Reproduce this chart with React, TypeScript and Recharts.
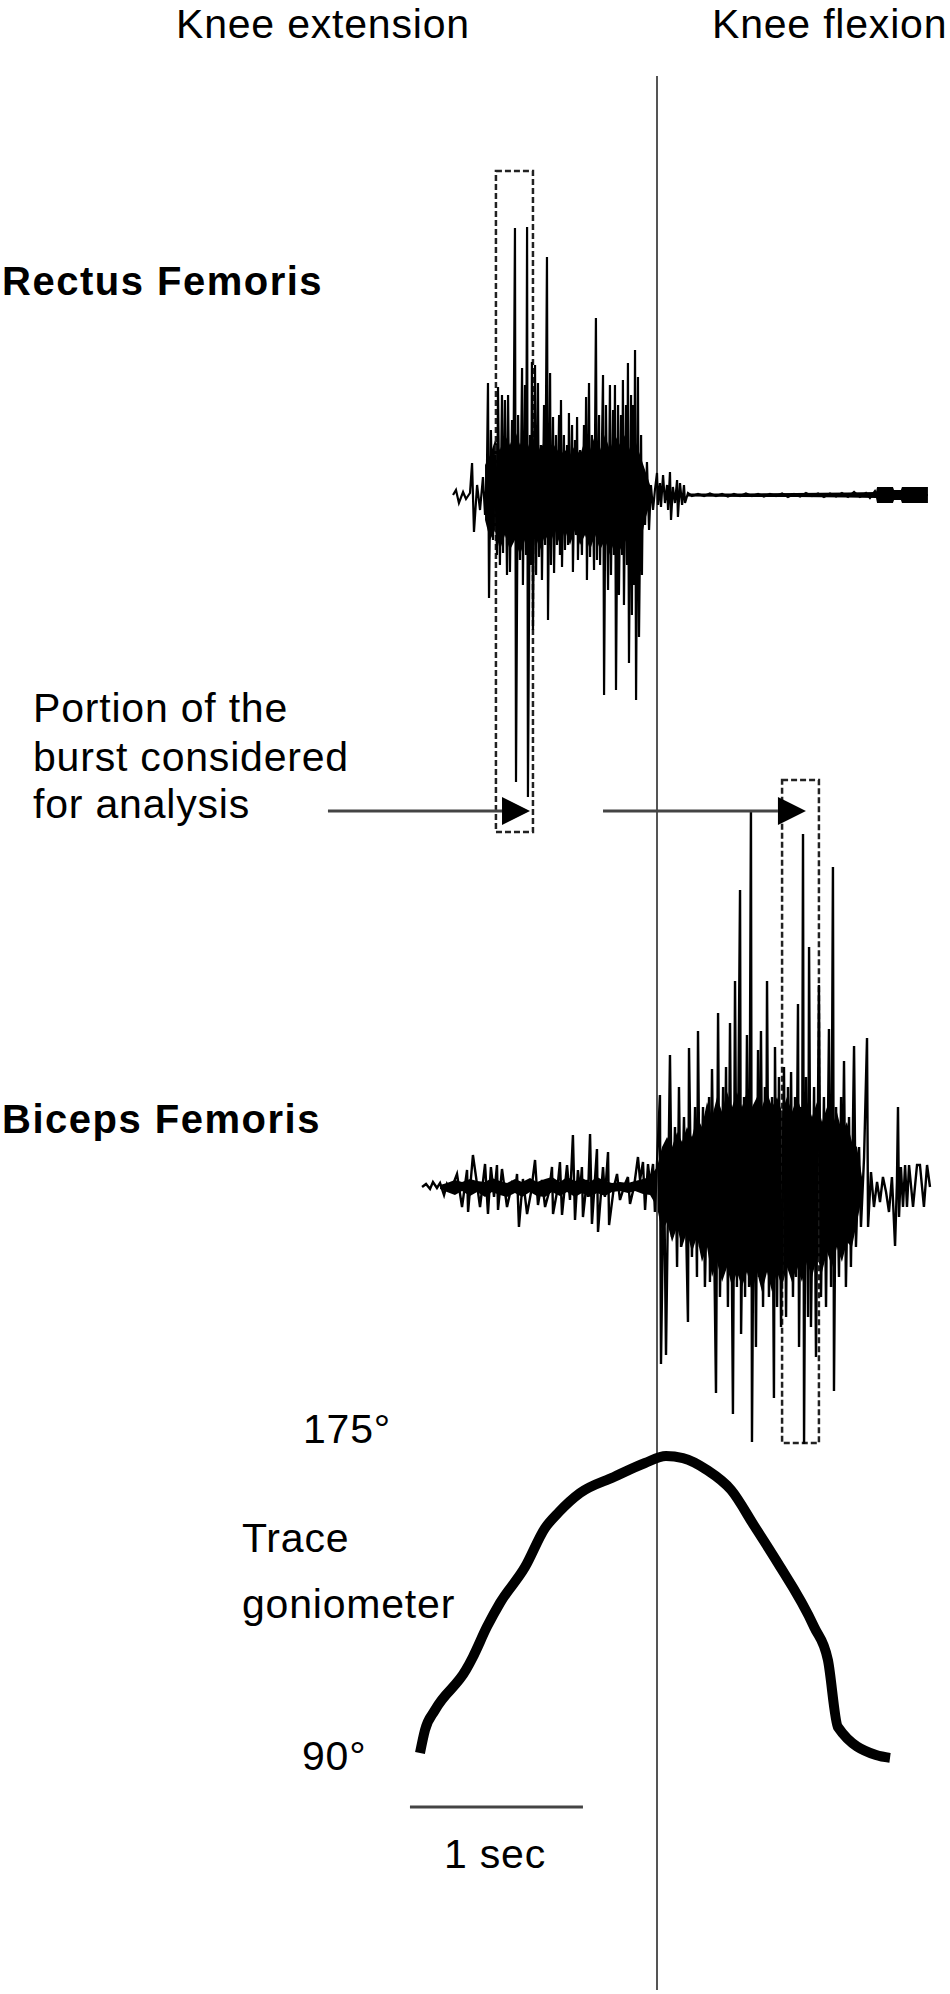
import {
  Area,
  ComposedChart,
  Line,
  ReferenceArea,
  ReferenceDot,
  ReferenceLine,
  XAxis,
  YAxis,
} from 'recharts';

/**
 * EMG bursts of rectus femoris and biceps femoris during a knee
 * extension / flexion cycle, with the goniometer trace below.
 * Time is in seconds relative to the end of knee extension (t = 0),
 * EMG in mV, goniometer in degrees.
 */

// Rectus femoris raw EMG (s, mV)
const rfTime = [
  -1.179, -1.162, -1.145, -1.121, -1.104, -1.081, -1.069, -1.058, -1.04, -1.023,
  -1.006, -0.994, -0.983, -0.977, -0.971, -0.96, -0.948, -0.936, -0.925, -0.919,
  -0.908, -0.896, -0.89, -0.879, -0.867, -0.861, -0.85, -0.838, -0.832, -0.821,
  -0.815, -0.803, -0.792, -0.78, -0.775, -0.763, -0.757, -0.751, -0.746, -0.734,
  -0.728, -0.723, -0.717, -0.705, -0.699, -0.688, -0.682, -0.671, -0.665, -0.653,
  -0.647, -0.636, -0.63, -0.618, -0.613, -0.601, -0.595, -0.584, -0.578, -0.566,
  -0.561, -0.555, -0.549, -0.538, -0.532, -0.52, -0.514, -0.509, -0.503, -0.491,
  -0.486, -0.474, -0.468, -0.462, -0.457, -0.445, -0.434, -0.422, -0.416, -0.41,
  -0.405, -0.393, -0.387, -0.376, -0.364, -0.353, -0.347, -0.335, -0.329, -0.312,
  -0.306, -0.295, -0.283, -0.272, -0.266, -0.254, -0.249, -0.243, -0.237, -0.225,
  -0.22, -0.208, -0.202, -0.197, -0.191, -0.179, -0.173, -0.168, -0.162, -0.15,
  -0.145, -0.139, -0.133, -0.127, -0.121, -0.11, -0.104, -0.092, -0.087, -0.081,
  -0.069, -0.058, -0.046, -0.035, -0.023, -0.012, 0.0, 0.006, 0.017, 0.023,
  0.035, 0.046, 0.058, 0.064, 0.075, 0.081, 0.092, 0.104, 0.116, 0.121,
  0.133, 0.145, 0.156, 0.162, 0.179, 0.202, 0.237, 0.272, 0.306, 0.341,
  0.376, 0.41, 0.445, 0.48, 0.514, 0.549, 0.584, 0.618, 0.653, 0.688,
  0.723, 0.757, 0.792, 0.827, 0.861, 0.896, 0.931, 0.965, 1.0, 1.035,
  1.069, 1.104, 1.139, 1.173, 1.208, 1.231, 1.26, 1.272, 1.566,
];
const rfAmp = [
  0, 0.05, -0.08, 0.03, -0.04, 0.02, 0.32, -0.37, 0.1, -0.15,
  0.18, -0.2, 0.25, 1.12, -1.03, 0.65, -0.45, 0.4, -0.6, 1.08,
  -0.7, 1.0, -0.58, 0.95, -0.8, 1.0, -0.77, 0.75, -0.4, 2.67,
  -2.87, 0.8, -0.65, 1.27, -0.9, 1.1, -0.6, 2.68, -3.02, 0.6,
  -0.7, 1.33, -1.35, 1.3, -0.8, 1.12, -0.62, 0.5, -0.85, 0.9,
  -0.5, 2.38, -1.25, 1.22, -0.7, 0.78, -0.78, 0.6, -0.5, 0.8,
  -0.6, 0.95, -0.72, 0.6, -0.55, 0.5, -0.5, 0.82, -0.45, 0.7,
  -0.77, 0.55, -0.4, 0.78, -0.65, 0.45, -0.6, 0.7, -0.4, 0.98,
  -0.85, 1.12, -0.62, 0.6, -0.75, 1.77, -0.65, 0.8, -0.7, 1.2,
  -2.0, 0.9, -0.95, 1.1, -0.8, 0.85, -0.6, 1.1, -1.95, 0.9,
  -1.0, 0.8, -0.6, 1.15, -1.1, 0.9, -0.7, 1.32, -1.68, 1.0,
  -1.2, 0.9, -0.9, 1.45, -2.05, 1.18, -1.42, 0.6, -0.8, 0.25,
  -0.3, 0.33, -0.35, 0.1, -0.15, 0.05, 0.22, -0.1, 0.12, -0.12,
  0.2, -0.08, 0.1, -0.15, 0.23, -0.25, 0.08, -0.08, 0.15, -0.22,
  0.12, -0.1, 0.1, -0.08, 0.02, -0.01, 0.01, -0.01, 0.015, -0.01,
  0.01, -0.015, 0.01, -0.01, 0.015, -0.01, 0.01, -0.015, 0.01, -0.01,
  0.015, -0.02, 0.01, -0.015, 0.02, -0.01, 0.015, -0.02, 0.015, -0.015,
  0.02, -0.02, 0.03, -0.02, 0.02, -0.03, 0.04, 0, 0,
];

// Rectus femoris dense core (min / max envelope, mV)
const rfCoreTime = [
  -0.994, -0.965, -0.936, -0.908, -0.879, -0.85, -0.821, -0.792, -0.763, -0.734,
  -0.705, -0.676, -0.647, -0.618, -0.59, -0.561, -0.532, -0.503, -0.474, -0.445,
  -0.416, -0.387, -0.358, -0.329, -0.301, -0.272, -0.243, -0.214, -0.185, -0.156,
  -0.127, -0.098, -0.069, -0.04,
];
const rfCoreLow = [
  -0.25, -0.45, -0.35, -0.55, -0.4, -0.55, -0.45, -0.6, -0.45, -0.55,
  -0.4, -0.55, -0.4, -0.5, -0.35, -0.5, -0.35, -0.5, -0.35, -0.5,
  -0.4, -0.55, -0.4, -0.55, -0.45, -0.6, -0.45, -0.55, -0.45, -0.55,
  -0.45, -0.5, -0.25, -0.08,
];
const rfCoreHigh = [
  0.3, 0.4, 0.55, 0.45, 0.6, 0.5, 0.65, 0.5, 0.6, 0.45,
  0.6, 0.45, 0.55, 0.4, 0.5, 0.4, 0.45, 0.4, 0.5, 0.4,
  0.55, 0.45, 0.6, 0.45, 0.6, 0.45, 0.6, 0.5, 0.6, 0.45,
  0.55, 0.4, 0.25, 0.1,
];

// Rectus femoris after the burst: low-level baseline and end-of-record block
const rfTailTime = [0.179, 0.5, 0.8, 1.1, 1.266, 1.272, 1.364, 1.37, 1.41, 1.416, 1.566];
const rfTailLow = [-0.015, -0.02, -0.02, -0.025, -0.03, -0.08, -0.08, -0.05, -0.05, -0.08, -0.08];
const rfTailHigh = [0.015, 0.015, 0.02, 0.025, 0.03, 0.08, 0.08, 0.05, 0.05, 0.08, 0.08];

// Biceps femoris raw EMG (s, mV)
const bfTime = [
  -1.358, -1.335, -1.312, -1.295, -1.272, -1.254, -1.231, -1.214, -1.191, -1.156,
  -1.127, -1.098, -1.092, -1.064, -1.046, -1.023, -0.994, -0.977, -0.96, -0.942,
  -0.925, -0.919, -0.896, -0.867, -0.838, -0.821, -0.809, -0.798, -0.775, -0.751,
  -0.728, -0.705, -0.688, -0.665, -0.647, -0.624, -0.607, -0.601, -0.578, -0.561,
  -0.549, -0.52, -0.503, -0.486, -0.474, -0.457, -0.445, -0.434, -0.428, -0.405,
  -0.399, -0.387, -0.376, -0.347, -0.341, -0.312, -0.301, -0.283, -0.277, -0.249,
  -0.231, -0.214, -0.185, -0.168, -0.156, -0.133, -0.11, -0.098, -0.081, -0.069,
  -0.052, -0.04, -0.023, -0.012, 0.017, 0.023, 0.04, 0.052, 0.075, 0.087,
  0.104, 0.116, 0.127, 0.139, 0.156, 0.179, 0.185, 0.202, 0.22, 0.231,
  0.237, 0.249, 0.266, 0.277, 0.301, 0.306, 0.318, 0.341, 0.353, 0.364,
  0.382, 0.387, 0.399, 0.41, 0.422, 0.439, 0.451, 0.462, 0.48, 0.486,
  0.503, 0.509, 0.52, 0.532, 0.543, 0.549, 0.561, 0.572, 0.584, 0.59,
  0.601, 0.613, 0.624, 0.63, 0.636, 0.647, 0.665, 0.676, 0.682, 0.694,
  0.705, 0.717, 0.734, 0.746, 0.757, 0.763, 0.775, 0.786, 0.798, 0.803,
  0.815, 0.821, 0.832, 0.838, 0.844, 0.85, 0.861, 0.873, 0.879, 0.89,
  0.908, 0.919, 0.936, 0.948, 0.965, 0.977, 0.994, 1.006, 1.017, 1.023,
  1.035, 1.052, 1.064, 1.069, 1.081, 1.092, 1.11, 1.121, 1.139, 1.15,
  1.168, 1.179, 1.197, 1.214, 1.22, 1.237, 1.254, 1.272, 1.289, 1.306,
  1.324, 1.341, 1.358, 1.376, 1.387, 1.393, 1.399, 1.41, 1.422, 1.434,
  1.445, 1.457, 1.48, 1.503, 1.52, 1.543, 1.561, 1.578,
];
const bfAmp = [
  0, 0.03, -0.02, 0.05, -0.01, 0.04, -0.08, 0.03, -0.03, 0.13,
  -0.2, 0.17, -0.25, 0.32, 0.1, -0.2, 0.23, -0.27, 0.2, -0.1,
  0.22, -0.23, 0.18, -0.2, 0.03, -0.05, 0.13, -0.4, 0.08, -0.27,
  -0.05, 0.27, -0.18, 0.07, -0.2, -0.05, 0.2, -0.27, -0.05, 0.25,
  -0.28, 0.22, -0.13, 0.52, -0.33, 0.17, -0.05, 0.2, -0.3, 0.07,
  -0.1, 0.53, -0.37, 0.38, -0.45, 0.2, -0.1, 0.35, -0.38, 0.0,
  0.13, -0.13, 0.03, 0.1, -0.17, 0.0, 0.3, 0.07, 0.25, -0.23,
  0.23, 0.03, 0.23, -0.25, 0.92, -1.77, 0.3, -1.68, 1.32, -0.5,
  0.6, -0.8, 1.0, -0.6, 0.7, -1.35, 1.39, -0.7, 0.8, -0.9,
  1.56, -0.6, 0.8, -1.0, 0.9, -0.95, 1.18, -2.06, 1.74, -1.1,
  1.0, -0.8, 1.2, -1.2, 1.64, -2.27, 2.06, -1.0, 2.97, -1.47,
  0.9, -1.1, 1.52, -1.0, 3.77, -2.55, 0.8, -1.6, 1.37, -0.9,
  1.56, -1.2, 1.0, -0.8, 2.06, -1.1, 0.9, -2.11, 1.4, -1.2,
  1.1, -1.4, 1.2, -1.3, 1.0, -0.7, 1.15, -1.1, 0.9, -0.9,
  1.83, -1.6, 0.8, -0.6, 3.53, -2.57, 1.1, -1.3, 2.4, -1.4,
  1.0, -1.7, 2.02, -1.1, 0.9, -1.2, 1.58, -1.0, 3.2, -2.04,
  0.8, -0.9, 0.9, -0.6, 1.26, -1.0, 0.7, -0.8, 1.41, -0.6,
  0.4, -0.4, 0.3, 1.49, -0.4, 0.15, -0.2, 0.05, -0.15, 0.1,
  -0.05, -0.25, 0.1, -0.59, 0.05, 0.8, -0.3, 0.2, -0.2, 0.22,
  -0.2, 0.22, -0.2, 0.22, 0.22, -0.2, 0.22, 0,
];

// Biceps femoris dense core (min / max envelope, mV)
const bfCoreTime = [
  -1.254, -1.214, -1.168, -1.127, -1.081, -1.04, -0.994, -0.954, -0.908, -0.867,
  -0.821, -0.78, -0.734, -0.694, -0.647, -0.607, -0.561, -0.52, -0.474, -0.434,
  -0.387, -0.347, -0.301, -0.26, -0.214, -0.168, -0.127, -0.081, -0.04, 0.0,
  0.029, 0.058, 0.087, 0.116, 0.145, 0.173, 0.202, 0.231, 0.26, 0.289,
  0.318, 0.347, 0.376, 0.405, 0.434, 0.462, 0.491, 0.52, 0.549, 0.578,
  0.607, 0.636, 0.665, 0.694, 0.723, 0.751, 0.78, 0.809, 0.838, 0.867,
  0.896, 0.925, 0.954, 0.983, 1.012, 1.04, 1.069, 1.098, 1.127, 1.156,
  1.185,
];
const bfCoreLow = [
  -0.02, -0.05, -0.08, -0.04, -0.09, -0.05, -0.1, -0.05, -0.08, -0.1,
  -0.06, -0.1, -0.05, -0.09, -0.1, -0.05, -0.09, -0.05, -0.1, -0.06,
  -0.1, -0.06, -0.09, -0.05, -0.04, -0.06, -0.04, -0.07, -0.08, -0.2,
  -0.45, -0.35, -0.55, -0.4, -0.6, -0.45, -0.65, -0.5, -0.75, -0.6,
  -0.9, -0.75, -0.95, -0.8, -1.0, -0.85, -1.0, -0.85, -1.05, -0.85,
  -1.05, -0.85, -1.05, -0.85, -1.0, -0.8, -0.95, -0.8, -0.95, -0.75,
  -0.9, -0.7, -0.85, -0.65, -0.8, -0.6, -0.75, -0.55, -0.6, -0.35,
  -0.1,
];
const bfCoreHigh = [
  0.02, 0.04, 0.07, 0.05, 0.08, 0.06, 0.05, 0.09, 0.06, 0.04,
  0.08, 0.05, 0.09, 0.05, 0.08, 0.1, 0.05, 0.1, 0.06, 0.09,
  0.05, 0.1, 0.06, 0.04, 0.05, 0.04, 0.06, 0.08, 0.1, 0.2,
  0.4, 0.5, 0.4, 0.55, 0.45, 0.6, 0.5, 0.7, 0.6, 0.85,
  0.7, 0.9, 0.75, 0.95, 0.8, 0.95, 0.8, 0.95, 0.8, 0.9,
  0.8, 0.95, 0.8, 0.9, 0.75, 0.9, 0.75, 0.9, 0.75, 0.85,
  0.7, 0.85, 0.65, 0.8, 0.6, 0.75, 0.55, 0.65, 0.45, 0.4,
  0.1,
];

// Goniometer (s, degrees)
const gonTime = [-1.37, -1.341, -1.283, -1.104, -1.064, -0.983, -0.908, -0.763, -0.647, -0.566, -0.445, -0.249, -0.069, 0.052, 0.15, 0.289, 0.428, 0.566, 0.688, 0.908, 0.988, 1.046, 1.266, 1.347];
const gonDeg = [90, 96.6, 102.3, 113.8, 117.5, 126.1, 132.9, 143.2, 154.4, 159.0, 164.4, 169.0, 173.0, 175.0, 174.4, 171.0, 165.3, 154.7, 145.2, 126.1, 116.6, 97.4, 89.4, 88.6];

// Analysis windows (s) and the scale bar
const rfWindow = [-0.931, -0.717];
const bfWindow = [0.723, 0.936];
const scaleBarStart = -1.428;
const scaleBarLength = 1;

const W = 950;
const H = 1994;
const FONT = '"Liberation Sans", Arial, Helvetica, sans-serif';

// t = 0 sits at x = 657 px, 173 px per second
const X_ZERO = 657;
const PX_PER_SEC = 173;
const xDomain = [-X_ZERO / PX_PER_SEC, (W - X_ZERO) / PX_PER_SEC];

// place a trace: baseline pixel, pixels per unit, value at baseline
const yDomain = (basePx: number, pxPerUnit: number, baseVal: number) => [
  baseVal - (H - basePx) / pxPerUnit,
  baseVal + basePx / pxPerUnit,
];

const rfData = rfTime.map((t, i) => ({ t, v: rfAmp[i] }));
const rfCore = rfCoreTime.map((t, i) => ({ t, range: [rfCoreLow[i], rfCoreHigh[i]] }));
const rfTail = rfTailTime.map((t, i) => ({ t, range: [rfTailLow[i], rfTailHigh[i]] }));
const bfData = bfTime.map((t, i) => ({ t, v: bfAmp[i] }));
const bfCore = bfCoreTime.map((t, i) => ({ t, range: [bfCoreLow[i], bfCoreHigh[i]] }));
const gonData = gonTime.map((t, i) => ({ t, v: gonDeg[i] }));

const ArrowHead = (props: any) => {
  const { cx, cy } = props;
  return <polygon points={`${cx},${cy} ${cx - 28},${cy - 14} ${cx - 28},${cy + 14}`} fill="#000" />;
};

const boxStyle = {
  fill: 'none',
  fillOpacity: 0,
  stroke: '#222',
  strokeWidth: 2.5,
  strokeDasharray: '6 3',
};

export default function App() {
  return (
    <div style={{ position: 'absolute', left: 0, top: 0, width: W, height: H, background: '#fff' }}>
      <ComposedChart width={W} height={H} margin={{ top: 0, right: 0, bottom: 0, left: 0 }}>
        <XAxis dataKey="t" type="number" domain={xDomain} allowDataOverflow hide />
        <YAxis yAxisId="rf" type="number" domain={yDomain(495, 100, 0)} allowDataOverflow hide />
        <YAxis yAxisId="bf" type="number" domain={yDomain(1187, 100, 0)} allowDataOverflow hide />
        <YAxis yAxisId="gon" type="number" domain={yDomain(1456, 3.494, 175)} allowDataOverflow hide />
        <YAxis yAxisId="px" type="number" domain={[0, H]} reversed allowDataOverflow hide />

        {/* end of extension / start of flexion */}
        <ReferenceLine
          yAxisId="px"
          segment={[{ x: 0, y: 76 }, { x: 0, y: 1990 }]}
          stroke="#555"
          strokeWidth={2}
        />

        {/* EMG bursts */}
        <Area yAxisId="rf" data={rfCore} dataKey="range" type="linear" fill="#000" fillOpacity={1} stroke="none" isAnimationActive={false} />
        <Area yAxisId="rf" data={rfTail} dataKey="range" type="linear" fill="#000" fillOpacity={1} stroke="none" isAnimationActive={false} />
        <Line yAxisId="rf" data={rfData} dataKey="v" type="linear" stroke="#000" strokeWidth={2.2} dot={false} isAnimationActive={false} />
        <Area yAxisId="bf" data={bfCore} dataKey="range" type="linear" fill="#000" fillOpacity={1} stroke="none" isAnimationActive={false} />
        <Line yAxisId="bf" data={bfData} dataKey="v" type="linear" stroke="#000" strokeWidth={2.4} dot={false} isAnimationActive={false} />

        {/* analysis windows */}
        <ReferenceArea yAxisId="rf" x1={rfWindow[0]} x2={rfWindow[1]} y1={-3.37} y2={3.24} {...boxStyle} />
        <ReferenceArea yAxisId="bf" x1={bfWindow[0]} x2={bfWindow[1]} y1={-2.56} y2={4.07} {...boxStyle} />

        {/* arrows pointing at the windows */}
        <ReferenceLine yAxisId="px" segment={[{ x: -1.902, y: 811 }, { x: -0.896, y: 811 }]} stroke="#444" strokeWidth={3} />
        <ReferenceDot yAxisId="px" x={rfWindow[0] + 0.197} y={811} shape={ArrowHead} />
        <ReferenceLine yAxisId="px" segment={[{ x: -0.312, y: 811 }, { x: 0.699, y: 811 }]} stroke="#444" strokeWidth={3} />
        <ReferenceDot yAxisId="px" x={bfWindow[0] + 0.138} y={811} shape={ArrowHead} />

        {/* goniometer */}
        <Line
          yAxisId="gon"
          data={gonData}
          dataKey="v"
          type="monotone"
          stroke="#000"
          strokeWidth={10}
          strokeLinejoin="round"
          strokeLinecap="butt"
          dot={false}
          activeDot={false}
          isAnimationActive={false}
        />

        {/* 1 s scale bar */}
        <ReferenceLine
          yAxisId="px"
          segment={[{ x: scaleBarStart, y: 1807 }, { x: scaleBarStart + scaleBarLength, y: 1807 }]}
          stroke="#444"
          strokeWidth={3}
        />
      </ComposedChart>

      <svg
        width={W}
        height={H}
        style={{ position: 'absolute', left: 0, top: 0, pointerEvents: 'none' }}
        fontFamily={FONT}
        fill="#000"
      >
        <text x={176} y={38} fontSize={41} letterSpacing={0.8}>Knee extension</text>
        <text x={712} y={38} fontSize={41} letterSpacing={0.8}>Knee flexion</text>
        <text x={2} y={295} fontSize={40} fontWeight={700} letterSpacing={1.5}>Rectus Femoris</text>
        <text x={33} y={722} fontSize={41} letterSpacing={0.8}>Portion of the</text>
        <text x={33} y={771} fontSize={41} letterSpacing={0.8}>burst considered</text>
        <text x={33} y={818} fontSize={41} letterSpacing={0.8}>for analysis</text>
        <text x={2} y={1133} fontSize={40} fontWeight={700} letterSpacing={1.5}>Biceps Femoris</text>
        <text x={303} y={1443} fontSize={41} letterSpacing={0.8}>175°</text>
        <text x={242} y={1552} fontSize={41} letterSpacing={0.8}>Trace</text>
        <text x={242} y={1618} fontSize={41} letterSpacing={0.8}>goniometer</text>
        <text x={302} y={1770} fontSize={41} letterSpacing={0.8}>90°</text>
        <text x={444} y={1868} fontSize={41} letterSpacing={0.8}>1 sec</text>
      </svg>
    </div>
  );
}
